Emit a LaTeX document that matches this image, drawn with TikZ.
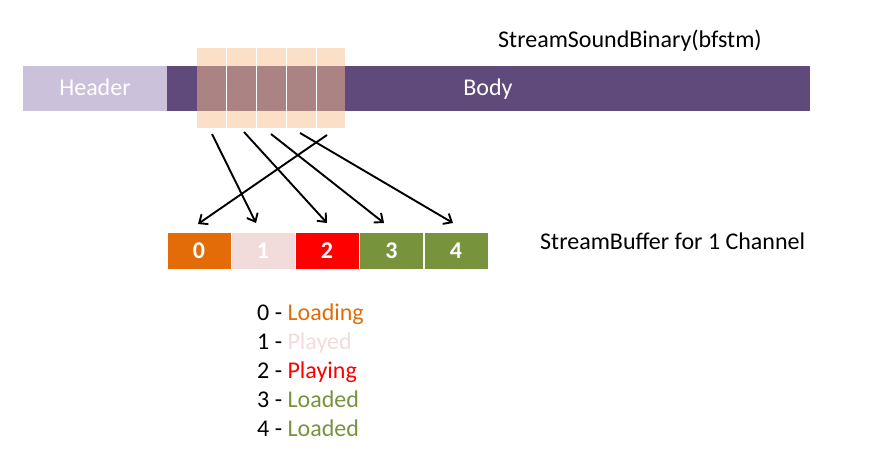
\documentclass[tikz,border=0pt]{standalone}
\usepackage{fontspec}
\setmainfont{Carlito}
\usetikzlibrary{arrows.meta}
\definecolor{hdr}{HTML}{CCC1DA}
\definecolor{bodyc}{HTML}{604A7B}
\definecolor{peach}{HTML}{FBDFC6}
\definecolor{mix}{HTML}{AC8383}
\definecolor{cload}{HTML}{E36C09}
\definecolor{cplayed}{HTML}{F2DCDB}
\definecolor{cplaying}{HTML}{FF0000}
\definecolor{cloaded}{HTML}{77933C}
\tikzset{
  txt/.style={inner sep=0pt, font=\fontsize{24}{29}\selectfont},
  bar/.style={draw=none, inner sep=0pt, minimum height=45pt},
  chunk/.style={draw=none, fill=peach, inner sep=0pt, minimum width=29pt, minimum height=80pt},
  cell/.style={draw=white, line width=1pt, inner sep=0pt, minimum width=64pt, minimum height=36pt,
     text=white, font=\fontsize{24}{29}\selectfont\bfseries},
  arr/.style={line width=1.9pt, -{Straight Barb[length=7pt,width=12pt,line width=1.9pt]}},
}
\begin{document}
\begin{tikzpicture}[x=1pt,y=-1pt]
\useasboundingbox (0,0) rectangle (879,468);
% bars
\node[bar, fill=hdr, minimum width=144pt] (header) at (95,88.5) {};
\node[bar, fill=bodyc, minimum width=643pt] (body) at (488.5,88.5) {};
% chunks
\foreach \i/\x in {1/211.5,2/241,3/271,4/301,5/330.5}{
  \node[chunk] (c\i) at (\x,88) {};
}
\fill[mix] (197,66) rectangle (345,111);
\foreach \x in {226,256,286,316}{
  \draw[white, line width=1pt] (\x,48) -- (\x,128);
}
\node[txt, text=white, anchor=base] (ht) at (95,96) {Header};
\node[txt, text=white, anchor=base] (bt) at (488,96) {Body};
\node[txt, anchor=base west] (title) at (498,48) {StreamSoundBinary(bfstm)};
% buffer
\node[cell, fill=cload] (b0) at (199,251) {0};
\node[cell, fill=cplayed] (b1) at (263,251) {1};
\node[cell, fill=cplaying] (b2) at (327,251) {2};
\node[cell, fill=cloaded] (b3) at (391.5,251) {3};
\node[cell, fill=cloaded] (b4) at (456,251) {4};
\node[txt, anchor=base west] (sbuf) at (540,250) {StreamBuffer for 1 Channel};
% arrows
\coordinate (s1) at (212,134); \coordinate (e1) at (256,223);
\coordinate (s2) at (244,132); \coordinate (e2) at (327,223);
\coordinate (s3) at (271,134); \coordinate (e3) at (384,223);
\coordinate (s4) at (300,133); \coordinate (e4) at (453,223);
\coordinate (s5) at (327,135); \coordinate (e5) at (198,224);
\foreach \i in {1,...,5}{ \draw[arr] (s\i) -- (e\i); }
% legend
\node[txt, anchor=base west] (l0) at (257,320) {0 - \textcolor{cload}{Loading}};
\node[txt, anchor=base west] (l1) at (257,349) {1 - \textcolor{cplayed}{Played}};
\node[txt, anchor=base west] (l2) at (257,378) {2 - \textcolor{cplaying}{Playing}};
\node[txt, anchor=base west] (l3) at (257,407) {3 - \textcolor{cloaded}{Loaded}};
\node[txt, anchor=base west] (l4) at (257,436) {4 - \textcolor{cloaded}{Loaded}};
\end{tikzpicture}
\end{document}
